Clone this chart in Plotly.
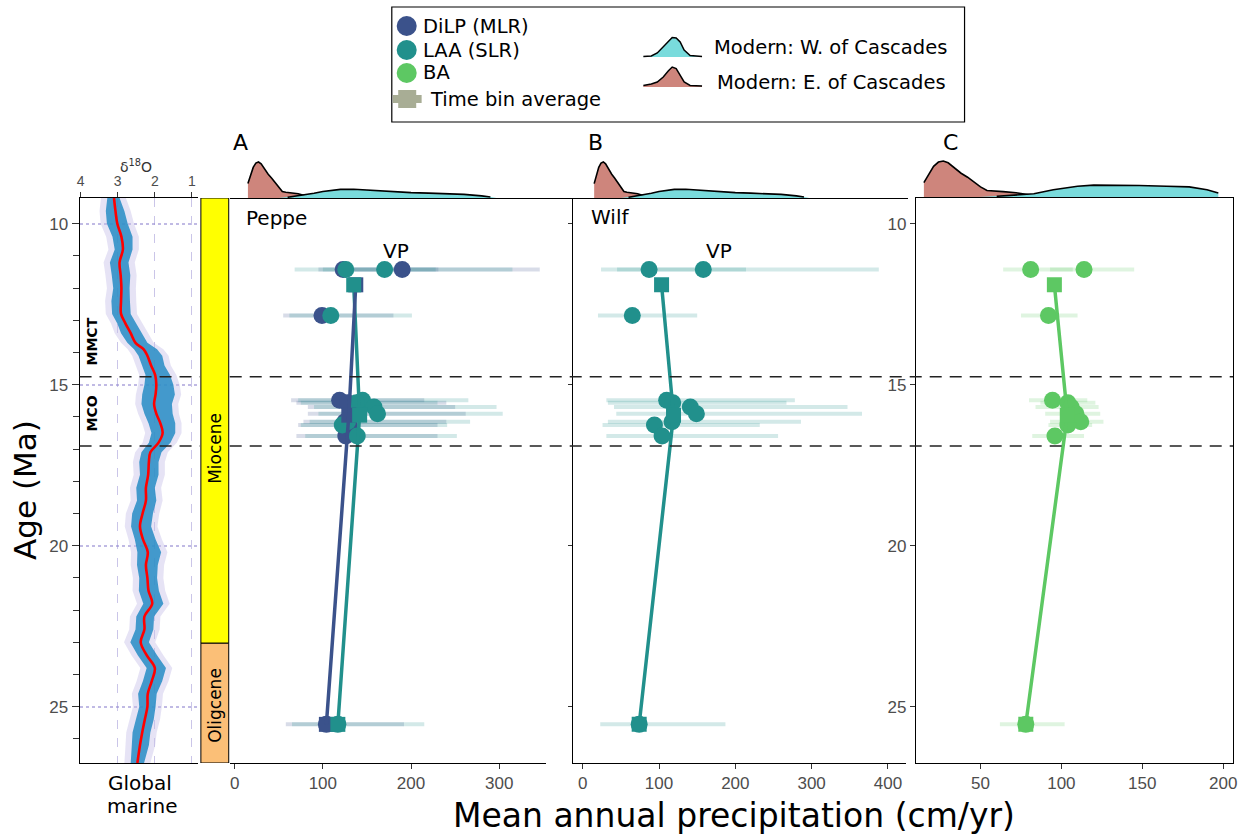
import plotly.graph_objects as go
import numpy as np

W, H = 1242, 835
def fx(p): return p / W
def fy(p): return 1 - p / H

# ---------------- data ----------------
# benthic d18O record (Global marine)
d18o_age = [9.2, 9.6, 10.0, 10.4, 10.8, 11.2, 11.6, 12.0, 12.4, 12.8, 13.1, 13.4, 13.7, 13.9, 14.1,
            14.4, 14.7, 15.0, 15.3, 15.6, 15.9, 16.2, 16.5, 16.8, 17.1, 17.4, 17.8, 18.2, 18.6, 19.0,
            19.4, 19.8, 20.2, 20.6, 21.0, 21.4, 21.8, 22.2, 22.6, 23.0, 23.4, 23.8, 24.2, 24.6, 25.0,
            25.4, 25.8, 26.2, 26.75]
d18o_smooth = [3.10, 3.06, 3.01, 2.90, 2.86, 2.95, 2.92, 2.90, 2.91, 2.91, 2.79, 2.65, 2.52, 2.30, 2.20,
               2.10, 1.99, 1.96, 1.98, 2.02, 1.96, 1.85, 1.79, 1.90, 2.12, 2.16, 2.18, 2.24, 2.24, 2.33,
               2.40, 2.32, 2.19, 2.24, 2.20, 2.17, 2.07, 2.28, 2.28, 2.38, 2.22, 2.00, 2.08, 2.19, 2.20,
               2.27, 2.34, 2.40, 2.47]
d18o_spread_heavy = [0.18, 0.26, 0.28, 0.24, 0.22, 0.26, 0.24, 0.22, 0.26, 0.24, 0.22, 0.26, 0.22, 0.26, 0.24,
                     0.24, 0.26, 0.32, 0.36, 0.34, 0.32, 0.32, 0.30, 0.26, 0.24, 0.26, 0.22, 0.26, 0.24, 0.28,
                     0.24, 0.22, 0.28, 0.24, 0.22, 0.26, 0.24, 0.22, 0.24, 0.28, 0.24, 0.22, 0.24, 0.26, 0.22,
                     0.24, 0.26, 0.22, 0.18]
d18o_spread_light = [0.15, 0.24, 0.28, 0.30, 0.26, 0.24, 0.26, 0.22, 0.24, 0.26, 0.28, 0.30, 0.32, 0.36, 0.40,
                     0.36, 0.40, 0.46, 0.52, 0.48, 0.44, 0.40, 0.34, 0.32, 0.30, 0.26, 0.28, 0.24, 0.28, 0.28,
                     0.30, 0.34, 0.36, 0.32, 0.26, 0.28, 0.30, 0.26, 0.24, 0.22, 0.28, 0.30, 0.28, 0.24, 0.22,
                     0.24, 0.22, 0.24, 0.18]

mco_limits = [14.75, 16.9]
epoch_names = ["Miocene", "Oligcene"]
epoch_bounds = [9.2, 23.03, 26.75]

# fossil sites (ages, Ma) and time bins
site_age = [11.42, 11.42, 12.85, 15.48, 15.56, 15.69, 15.9, 16.15, 16.25, 16.59, 25.55]
site_bin = [1, 1, 1, 2, 2, 2, 2, 2, 2, 2, 3]

# MAP estimates (cm/yr)
peppe_dilp = [123, 190, 99, 119, 128, 138, 140, 125, 130, 126, 104]
peppe_dilp_lo = [95, 135, 55, 64, 70, 83, 83, 78, 72, 70, 58]
peppe_dilp_hi = [231, 346, 180, 215, 240, 250, 262, 240, 230, 230, 192]
peppe_laa = [126, 170, 109, 145, 138, 158, 162, 128, 122, 139, 117]
peppe_laa_lo = [68, 100, 62, 72, 75, 90, 95, 85, 75, 80, 65]
peppe_laa_hi = [228, 315, 201, 265, 230, 297, 304, 267, 241, 252, 215]
wilf_laa = [87, 158, 65, 110, 118, 141, 149, 117, 94, 104, 74]
wilf_laa_lo = [24, 45, 20, 31, 33, 41, 44, 33, 26, 31, 23]
wilf_laa_hi = [214, 388, 150, 278, 267, 347, 366, 286, 232, 256, 187]
ba_map = [81, 114, 92, 94.5, 104, 106, 109, 112, 104, 96, 78]
ba_lo = [64, 93, 75, 80, 87, 84, 90, 93, 92, 82, 62]
ba_hi = [107, 145, 110, 116, 121, 123, 124, 126, 119, 114, 102]

# modern precipitation densities (relative height)
east_x = [15, 15, 18, 21, 24, 27, 30, 34, 38, 42, 46, 50, 54, 58, 64, 72, 80, 86]
east_h = [0, 0.40, 0.62, 0.85, 0.97, 1.0, 0.95, 0.80, 0.66, 0.55, 0.42, 0.28, 0.18, 0.16, 0.15, 0.12, 0.06, 0]
west_x = [50, 60, 70, 80, 90, 100, 110, 120, 135, 150, 165, 180, 200, 220, 240, 260, 280, 290, 297]
west_h = [0, 0.02, 0.05, 0.08, 0.13, 0.18, 0.22, 0.24, 0.245, 0.22, 0.20, 0.18, 0.15, 0.135, 0.12, 0.10, 0.06, 0.03, 0]
west_x_c = [49, 60, 70, 83, 95, 110, 120, 135, 148, 165, 179, 190, 197, 197]
west_h_c = [0, 0.02, 0.05, 0.09, 0.20, 0.30, 0.33, 0.33, 0.32, 0.30, 0.28, 0.20, 0.11, 0]

C_DILP = '#3B528B'; C_LAA = '#21908C'; C_BA = '#5DC863'
E_DILP = 'rgba(59,82,139,0.2)'; E_LAA = 'rgba(33,144,140,0.2)'; E_BA = 'rgba(93,200,99,0.2)'
C_EAST = '#CE857C'; C_WEST = '#79DBDC'

fig = go.Figure()

# ---------------- d18O panel ----------------
def band(left, right):
    xs = [s + l for s, l in zip(d18o_smooth, left)] + \
         [s - r for s, r in zip(d18o_smooth[::-1], right[::-1])]
    ys = d18o_age + d18o_age[::-1]
    return xs, ys

pad = 0.17
lx, ly = band([v + pad for v in d18o_spread_heavy], [v + pad for v in d18o_spread_light])
fig.add_trace(go.Scatter(x=lx, y=ly, fill='toself', fillcolor='rgba(200,192,232,0.45)', mode='lines',
                         line=dict(width=0), xaxis='x', yaxis='y', hoverinfo='skip'))
bx, by = band(d18o_spread_heavy, d18o_spread_light)
fig.add_trace(go.Scatter(x=bx, y=by, fill='toself', fillcolor='rgba(38,140,196,0.85)', mode='lines',
                         line=dict(width=0), xaxis='x', yaxis='y', hoverinfo='skip'))
fig.add_trace(go.Scatter(x=d18o_smooth, y=d18o_age, mode='lines',
                         line=dict(color='#FF0000', width=2.6, shape='spline'), xaxis='x', yaxis='y'))

# ---------------- proxy panels ----------------
def errbars(xa, ya, vals, lo, hi, ecol):
    fig.add_trace(go.Scatter(
        x=vals, y=site_age, mode='markers', marker=dict(size=1, color='rgba(0,0,0,0)'),
        error_x=dict(type='data', symmetric=False,
                     array=[h - v for h, v in zip(hi, vals)],
                     arrayminus=[v - l for v, l in zip(vals, lo)],
                     color=ecol, thickness=4, width=0),
        xaxis=xa, yaxis=ya, hoverinfo='skip'))

def points(xa, ya, vals, col):
    fig.add_trace(go.Scatter(x=vals, y=site_age, mode='markers',
                             marker=dict(size=17, color=col, symbol='circle'), xaxis=xa, yaxis=ya))

def bins(vals):
    ages, means = [], []
    for b in sorted(set(site_bin)):
        idx = [i for i, s in enumerate(site_bin) if s == b]
        ages.append(float(np.mean([site_age[i] for i in idx])))
        means.append(float(np.mean([vals[i] for i in idx])))
    return ages, means

def binline(xa, ya, vals, col):
    a, m = bins(vals)
    fig.add_trace(go.Scatter(x=m, y=a, mode='lines', line=dict(color=col, width=3.5), xaxis=xa, yaxis=ya))

def binsq(xa, ya, vals, col):
    a, m = bins(vals)
    fig.add_trace(go.Scatter(x=m, y=a, mode='markers', marker=dict(size=15, color=col, symbol='square'),
                             xaxis=xa, yaxis=ya))

# Panel A (Peppe)
errbars('x2', 'y2', peppe_dilp, peppe_dilp_lo, peppe_dilp_hi, E_DILP)
errbars('x2', 'y2', peppe_laa, peppe_laa_lo, peppe_laa_hi, E_LAA)
points('x2', 'y2', peppe_dilp, C_DILP)
points('x2', 'y2', peppe_laa, C_LAA)
binsq('x2', 'y2', peppe_dilp, C_DILP)
binline('x2', 'y2', peppe_laa, C_LAA)
binline('x2', 'y2', peppe_dilp, C_DILP)
binsq('x2', 'y2', peppe_laa, C_LAA)

# Panel B (Wilf)
errbars('x3', 'y3', wilf_laa, wilf_laa_lo, wilf_laa_hi, E_LAA)
points('x3', 'y3', wilf_laa, C_LAA)
binline('x3', 'y3', wilf_laa, C_LAA)
binsq('x3', 'y3', wilf_laa, C_LAA)

# Panel C (BA)
errbars('x4', 'y4', ba_map, ba_lo, ba_hi, E_BA)
points('x4', 'y4', ba_map, C_BA)
binline('x4', 'y4', ba_map, C_BA)
binsq('x4', 'y4', ba_map, C_BA)

# ---------------- density strips ----------------
def density(xa, ya, xs, hs, col):
    fig.add_trace(go.Scatter(x=xs, y=hs, fill='toself', fillcolor=col, mode='lines', line=dict(width=0),
                             xaxis=xa, yaxis=ya, hoverinfo='skip'))
    fig.add_trace(go.Scatter(x=xs[1:-1], y=hs[1:-1], mode='lines', line=dict(color='black', width=1.6),
                             xaxis=xa, yaxis=ya, hoverinfo='skip'))

density('x5', 'y5', east_x, east_h, C_EAST)
density('x5', 'y5', west_x, west_h, C_WEST)
density('x6', 'y6', east_x, east_h, C_EAST)
density('x6', 'y6', west_x, west_h, C_WEST)
density('x7', 'y7', east_x, east_h, C_EAST)
density('x7', 'y7', west_x_c, west_h_c, C_WEST)

# ---------------- legend (pixel overlay) ----------------
leg_cols = [C_DILP, C_LAA, C_BA]
leg_y = [26, 50, 73]
fig.add_trace(go.Scatter(x=[406] * 3, y=leg_y, mode='markers', marker=dict(size=20, color=leg_cols),
                         xaxis='x8', yaxis='y8'))
fig.add_trace(go.Scatter(x=[392, 421], y=[99, 99], mode='lines', line=dict(color='#A8AD95', width=8),
                         xaxis='x8', yaxis='y8'))
fig.add_trace(go.Scatter(x=[406.5], y=[99], mode='markers', marker=dict(size=18, color='#A8AD95', symbol='square'),
                         xaxis='x8', yaxis='y8'))
icon_dx = [0, 8, 14, 20, 25, 29, 33, 37, 41, 47, 59]
icon_up_w = [0.5, 1, 4, 10, 16, 19.5, 19, 15, 7, 1.5, 0.5]
icon_up_e = [1.5, 3, 5, 10, 16, 20, 18.5, 12, 5, 1.5, 1]
for base, ups, col in [(57, icon_up_w, C_WEST), (87, icon_up_e, C_EAST)]:
    xs = [644 + d for d in icon_dx]
    ys = [base - u for u in ups]
    fig.add_trace(go.Scatter(x=[xs[0]] + xs + [xs[-1]], y=[base] + ys + [base], fill='toself', fillcolor=col,
                             mode='lines', line=dict(width=0), xaxis='x8', yaxis='y8'))
    fig.add_trace(go.Scatter(x=xs, y=ys, mode='lines', line=dict(color='black', width=1.5),
                             xaxis='x8', yaxis='y8'))

# ---------------- layout ----------------
tickfont = dict(family='Liberation Sans, Arial', size=17, color='#4D4D4D')
ydom = [fy(763), fy(198)]
yrange = [26.75, 9.2]

layout = dict(
    width=W, height=H, margin=dict(l=0, r=0, t=0, b=0), showlegend=False,
    paper_bgcolor='white', plot_bgcolor='rgba(0,0,0,0)',
    xaxis=dict(domain=[fx(77), fx(196)], range=[4.027, 0.84], side='top', anchor='y',
               showline=True, mirror=True, linecolor='black', linewidth=1,
               ticks='outside', ticklen=5, tickcolor='#333', tickvals=[4, 3, 2, 1],
               tickfont=dict(family='Liberation Sans, Arial', size=14, color='#4D4D4D'),
               showgrid=True, gridcolor='rgba(150,140,210,0.5)', griddash='dash', gridwidth=1,
               zeroline=False),
    yaxis=dict(domain=ydom, range=yrange, anchor='x', showline=True, linecolor='black', linewidth=1,
               ticks='outside', ticklen=7, tickcolor='#333', tick0=10, dtick=5, tickfont=tickfont,
               showgrid=True, gridcolor='rgba(150,140,210,0.6)', griddash='dot', gridwidth=1.5,
               minor=dict(dtick=1, tick0=0, ticks='outside', ticklen=6, tickcolor='#333', showgrid=False),
               zeroline=False),
    xaxis2=dict(domain=[fx(228), fx(546)], range=[-5.64, 353.0], anchor='y2', showline=True,
                linecolor='black', linewidth=1, ticks='outside', ticklen=5, tickcolor='#333',
                tickvals=[0, 100, 200, 300], tickfont=tickfont, showgrid=False, zeroline=False),
    yaxis2=dict(domain=ydom, range=yrange, anchor='x2', visible=False),
    xaxis3=dict(domain=[fx(573), fx(908)], range=[-13.03, 423.5], anchor='y3', showline=True,
                linecolor='black', linewidth=1, ticks='outside', ticklen=5, tickcolor='#333',
                tickvals=[0, 100, 200, 300, 400], tickfont=tickfont, showgrid=False, zeroline=False),
    yaxis3=dict(domain=ydom, range=yrange, anchor='x3', showline=True, linecolor='black', linewidth=1,
                ticks='outside', ticklen=4, tickcolor='#333', tick0=10, dtick=5, showticklabels=False,
                showgrid=False, zeroline=False),
    xaxis4=dict(domain=[fx(918), fx(1237)], range=[10.02, 206.1], anchor='y4', showline=True, mirror=True,
                linecolor='black', linewidth=1, ticks='outside', ticklen=5, tickcolor='#333',
                tickvals=[50, 100, 150, 200], tickfont=tickfont, showgrid=False, zeroline=False),
    yaxis4=dict(domain=ydom, range=yrange, anchor='x4', showline=True, mirror=True, linecolor='black',
                linewidth=1, ticks='outside', ticklen=5, tickcolor='#333', tick0=10, dtick=5,
                tickfont=tickfont, showgrid=False, zeroline=False),
    xaxis5=dict(domain=[fx(228), fx(573)], range=[-5.64, 383.4], anchor='y5', showline=True,
                linecolor='black', linewidth=1, showticklabels=False, ticks='', showgrid=False, zeroline=False),
    yaxis5=dict(domain=[fy(198), fy(150)], range=[0, 1.333], anchor='x5', visible=False),
    xaxis6=dict(domain=[fx(573), fx(910)], range=[-13.03, 426.1], anchor='y6', showline=True,
                linecolor='black', linewidth=1, showticklabels=False, ticks='', showgrid=False, zeroline=False),
    yaxis6=dict(domain=[fy(198), fy(150)], range=[0, 1.333], anchor='x6', visible=False),
    xaxis7=dict(domain=[fx(918), fx(1237)], range=[10.02, 206.1], anchor='y7', visible=False),
    yaxis7=dict(domain=[fy(197), fy(149)], range=[0, 1.333], anchor='x7', visible=False),
    xaxis8=dict(domain=[0, 1], range=[0, W], anchor='y8', visible=False),
    yaxis8=dict(domain=[0, 1], range=[H, 0], anchor='x8', visible=False),
)
fig.update_layout(**layout)

shapes = []
# legend box
shapes.append(dict(type='rect', xref='paper', yref='paper', x0=fx(391), x1=fx(967), y0=fy(122), y1=fy(7),
                   line=dict(color='black', width=1.2), fillcolor='white', layer='below'))
# epoch bar
epoch_cols = ['#FFFF00', '#FBBF77']
for i, c in enumerate(epoch_cols):
    shapes.append(dict(type='rect', xref='paper', yref='y', x0=fx(199), x1=fx(227),
                       y0=epoch_bounds[i], y1=epoch_bounds[i + 1], fillcolor=c,
                       line=dict(color='black', width=1), layer='above'))
# MCO dashed limits
for a in mco_limits:
    for x0, x1 in [(77, 198), (228, 1237)]:
        shapes.append(dict(type='line', xref='paper', yref='y', x0=fx(x0), x1=fx(x1), y0=a, y1=a,
                           line=dict(color='#222', width=1.5, dash='12px,8px'), layer='above'))
fig.update_layout(shapes=shapes)

anns = []
def ann(text, x, y, size, rot=0, color='black', xanchor='center', family='DejaVu Sans'):
    anns.append(dict(text=text, x=fx(x), y=fy(y), xref='paper', yref='paper', showarrow=False,
                     textangle=rot, xanchor=xanchor, yanchor='middle',
                     font=dict(family=family, size=size, color=color)))

ann('δ<sup>18</sup>O', 134, 166, 14, color='#333')
ann('<b>MMCT</b>', 90, 341, 14, rot=-90)
ann('<b>MCO</b>', 90, 413, 14, rot=-90)
ann(epoch_names[0], 213, 448, 17, rot=-90)
ann(epoch_names[1], 213, 705, 17, rot=-90)
ann('Age (Ma)', 22, 490, 31, rot=-90)
ann('Global', 138, 783, 20)
ann('marine', 140, 806, 20)
ann('Mean annual precipitation (cm/yr)', 735, 815, 33)
ann('A', 239, 142, 22)
ann('B', 596, 142, 22)
ann('C', 953, 142, 22)
ann('Peppe', 242, 218, 20, xanchor='left')
ann('Wilf', 589, 217, 20, xanchor='left')
ann('VP', 395, 251, 20)
ann('VP', 720, 251, 20)
ann('DiLP (MLR)', 420, 26, 19.5, xanchor='left')
ann('LAA (SLR)', 420, 50, 19.5, xanchor='left')
ann('BA', 420, 73, 19.5, xanchor='left')
ann('Time bin average', 427, 99, 19.5, xanchor='left')
ann('Modern: W. of Cascades', 713, 48, 19.5, xanchor='left')
ann('Modern: E. of Cascades', 716, 82, 19.5, xanchor='left')
fig.update_layout(annotations=anns)

fig.write_html("out.html", config={'displayModeBar': False},
               post_script="document.body.style.margin='0';document.body.style.overflow='hidden';")
